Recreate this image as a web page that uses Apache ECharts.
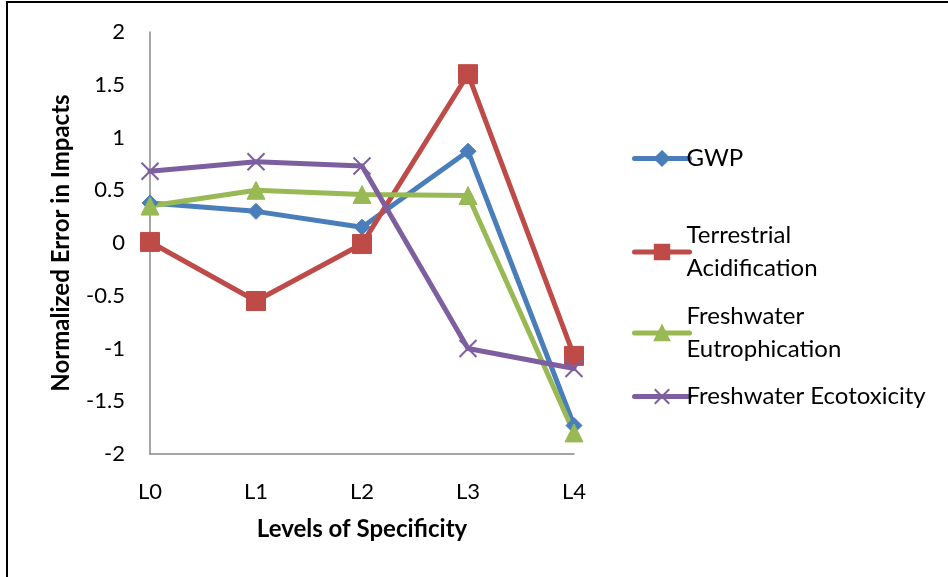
<!DOCTYPE html>
<html>
<head>
<meta charset="utf-8">
<script src="https://cdn.jsdelivr.net/npm/echarts@6/dist/echarts.min.js"></script>
<style>
  html, body { margin: 0; padding: 0; background: #fff; }
  #chart { width: 948px; height: 577px; }
</style>
</head>
<body>
<div id="chart"></div>
<script>
// Levels of specificity along the x axis
const levels = ['L0', 'L1', 'L2', 'L3', 'L4'];

// Normalized error per impact category
const gwp = [0.38, 0.30, 0.15, 0.87, -1.73];
const terrestrialAcidification = [0.01, -0.55, -0.01, 1.60, -1.07];
const freshwaterEutrophication = [0.35, 0.50, 0.46, 0.45, -1.80];
const freshwaterEcotoxicity = [0.68, 0.77, 0.73, -1.00, -1.19];

const seriesNames = ['GWP', 'Terrestrial Acidification', 'Freshwater Eutrophication', 'Freshwater Ecotoxicity'];
const legendLabels = ['GWP', 'Terrestrial\nAcidification', 'Freshwater\nEutrophication', 'Freshwater Ecotoxicity'];

const colors = ['#4a7ebb', '#be4b48', '#98b954', '#7d5fa0'];
const symbols = ['diamond', 'rect', 'triangle', 'path://M0,0 L10,10 M10,0 L0,10'];
const symbolSizes = [16, 19, 18, 17];
const values = [gwp, terrestrialAcidification, freshwaterEutrophication, freshwaterEcotoxicity];

const FONT = 'Lato, "Open Sans", sans-serif';

const chart = echarts.init(document.getElementById('chart'));

const series = seriesNames.map((name, i) => ({
  name: name,
  type: 'line',
  data: values[i],
  symbol: symbols[i],
  symbolSize: symbolSizes[i],
  showAllSymbol: true,
  lineStyle: { color: colors[i], width: 5, cap: 'round', join: 'round' },
  itemStyle: i === 3
    ? { color: 'none', borderColor: colors[i], borderWidth: 2 }
    : { color: colors[i], borderColor: colors[i], borderWidth: 1 },
  z: i === 3 ? 3 : 2
}));

const legendTops = [137, 214, 295, 375];
const legends = seriesNames.map((name, i) => ({
  data: [name],
  left: 627,
  top: legendTops[i],
  orient: 'vertical',
  itemWidth: 55,
  itemHeight: 18,
  itemGap: 0,
  selectedMode: false,
  lineStyle: { width: 5, cap: 'round' },
  formatter: () => legendLabels[i],
  textStyle: {
    fontFamily: FONT,
    fontSize: 24,
    color: '#000',
    lineHeight: 33,
    padding: [0, 0, 0, -8]
  }
}));

chart.setOption({
  animation: false,
  backgroundColor: '#fff',
  color: colors,
  grid: { left: 150, right: 374, top: 32, bottom: 123, containLabel: false },
  legend: legends,
  xAxis: {
    type: 'category',
    data: levels,
    boundaryGap: false,
    name: 'Levels of Specificity',
    nameLocation: 'middle',
    nameGap: 63,
    nameTextStyle: { fontFamily: FONT, fontSize: 24, fontWeight: 'bold', color: '#000' },
    axisLine: { onZero: false, lineStyle: { color: '#888', width: 1.5 } },
    axisTick: { show: false },
    axisLabel: { fontFamily: FONT, fontSize: 22, color: '#000', margin: 27 },
    splitLine: { show: false }
  },
  yAxis: {
    type: 'value',
    min: -2,
    max: 2,
    interval: 0.5,
    name: 'Normalized Error in Impacts',
    nameLocation: 'middle',
    nameGap: 77,
    nameRotate: 90,
    nameTextStyle: { fontFamily: FONT, fontSize: 24, fontWeight: 'bold', color: '#000' },
    axisLine: { show: true, lineStyle: { color: '#888', width: 1.5 } },
    axisTick: { show: false },
    axisLabel: { fontFamily: FONT, fontSize: 22, color: '#000', margin: 25 },
    splitLine: { show: false }
  },
  graphic: [
    {
      type: 'polyline',
      shape: { points: [[7, 577], [7, 2], [948, 2]] },
      style: { stroke: '#000', lineWidth: 2, fill: 'none' },
      silent: true
    }
  ],
  series: series
});
</script>
</body>
</html>
